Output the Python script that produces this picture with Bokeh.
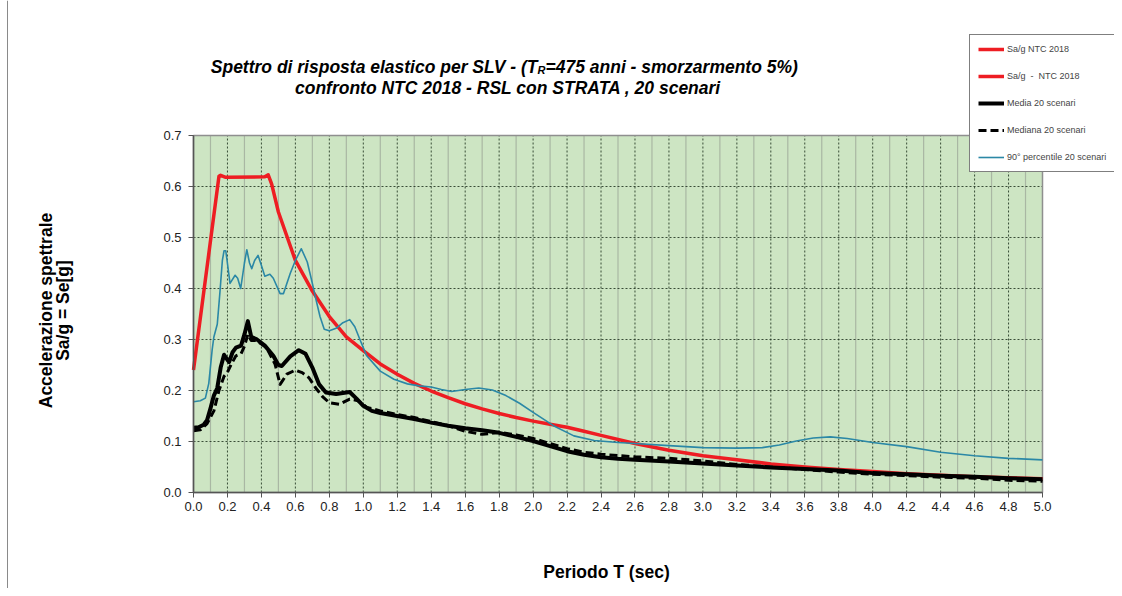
import math
from bokeh.plotting import figure
from bokeh.models import (Range1d, FixedTicker, PrintfTickFormatter, Label,
                          Legend, LegendItem, LinearAxis, Span)
from bokeh.embed import file_html
from bokeh.resources import INLINE

# ---------------- data ----------------
t_ntc = [0.00, 0.15, 0.16, 0.19, 0.42, 0.44, 0.46, 0.50, 0.60, 0.70, 0.80, 0.90,
         1.00, 1.10, 1.20, 1.30, 1.40, 1.50, 1.60, 1.70, 1.80, 1.90, 2.00, 2.10,
         2.20, 2.30, 2.40, 2.60, 2.80, 3.00, 3.20, 3.40, 3.60, 3.80, 4.00, 4.20,
         4.40, 4.60, 4.80, 5.00]
sa_ntc = [0.240, 0.620, 0.622, 0.618, 0.619, 0.623, 0.605, 0.550, 0.455, 0.395,
          0.345, 0.305, 0.278, 0.252, 0.232, 0.214, 0.199, 0.186, 0.174, 0.164,
          0.155, 0.147, 0.140, 0.134, 0.128, 0.120, 0.112, 0.096, 0.083, 0.072,
          0.064, 0.056, 0.050, 0.045, 0.041, 0.037, 0.034, 0.031, 0.029, 0.027]

t_mean = [0.00, 0.03, 0.06, 0.08, 0.10, 0.12, 0.14, 0.16, 0.18, 0.20, 0.21, 0.23,
          0.25, 0.28, 0.30, 0.32, 0.34, 0.37, 0.42, 0.47, 0.50, 0.52, 0.57, 0.62,
          0.66, 0.70, 0.74, 0.78, 0.84, 0.92, 0.96, 1.00, 1.05, 1.10, 1.20, 1.30,
          1.40, 1.50, 1.60, 1.70, 1.80, 1.90, 2.00, 2.10, 2.20, 2.30, 2.40, 2.50,
          2.60, 2.80, 3.00, 3.20, 3.40, 3.60, 3.80, 4.00, 4.20, 4.40, 4.60, 4.80,
          5.00]
sa_mean = [0.127, 0.128, 0.133, 0.142, 0.165, 0.190, 0.205, 0.245, 0.270, 0.260,
           0.256, 0.275, 0.284, 0.288, 0.310, 0.336, 0.305, 0.301, 0.288, 0.268,
           0.250, 0.248, 0.267, 0.279, 0.272, 0.245, 0.212, 0.196, 0.193, 0.197,
           0.184, 0.170, 0.160, 0.156, 0.150, 0.144, 0.137, 0.131, 0.126, 0.122,
           0.117, 0.109, 0.101, 0.091, 0.081, 0.074, 0.069, 0.066, 0.064, 0.061,
           0.057, 0.053, 0.049, 0.046, 0.043, 0.038, 0.036, 0.033, 0.031, 0.028,
           0.026]

t_median = [0.00, 0.04, 0.08, 0.12, 0.15, 0.18, 0.20, 0.22, 0.25, 0.28, 0.30, 0.32,
            0.34, 0.37, 0.43, 0.48, 0.51, 0.55, 0.60, 0.64, 0.68, 0.72, 0.76, 0.80,
            0.86, 0.92, 0.97, 1.02, 1.10, 1.20, 1.30, 1.40, 1.50, 1.60, 1.70, 1.80,
            1.90, 2.00, 2.10, 2.20, 2.30, 2.40, 2.60, 2.80, 3.00, 3.20, 3.40, 3.60,
            3.80, 4.00, 4.20, 4.40, 4.60, 4.80, 5.00]
sa_median = [0.121, 0.123, 0.135, 0.160, 0.200, 0.228, 0.236, 0.250, 0.268, 0.272,
             0.287, 0.310, 0.298, 0.298, 0.284, 0.252, 0.212, 0.232, 0.240, 0.235,
             0.225, 0.205, 0.188, 0.176, 0.173, 0.183, 0.180, 0.167, 0.160, 0.153,
             0.147, 0.139, 0.131, 0.120, 0.114, 0.118, 0.113, 0.106, 0.096, 0.086,
             0.079, 0.075, 0.070, 0.067, 0.062, 0.055, 0.050, 0.045, 0.040, 0.036,
             0.033, 0.030, 0.028, 0.024, 0.022]

t_p90 = [0.00, 0.04, 0.07, 0.09, 0.11, 0.12, 0.14, 0.155, 0.17, 0.18, 0.19, 0.20,
         0.215, 0.245, 0.26, 0.278, 0.30, 0.314, 0.33, 0.343, 0.36, 0.38, 0.40,
         0.42, 0.45, 0.47, 0.51, 0.53, 0.57, 0.60, 0.635, 0.67, 0.70, 0.72, 0.745,
         0.77, 0.80, 0.84, 0.88, 0.92, 0.95, 0.98, 1.02, 1.10, 1.18, 1.26, 1.33,
         1.40, 1.46, 1.52, 1.60, 1.68, 1.76, 1.84, 1.92, 2.00, 2.12, 2.24, 2.36,
         2.50, 2.60, 2.80, 3.00, 3.20, 3.35, 3.45, 3.55, 3.65, 3.75, 3.85, 4.00,
         4.20, 4.40, 4.60, 4.80, 5.00]
sa_p90 = [0.178, 0.180, 0.185, 0.214, 0.280, 0.305, 0.330, 0.390, 0.455, 0.474,
          0.474, 0.449, 0.410, 0.426, 0.420, 0.400, 0.450, 0.476, 0.450, 0.439,
          0.455, 0.465, 0.445, 0.424, 0.428, 0.420, 0.390, 0.390, 0.430, 0.455,
          0.478, 0.452, 0.410, 0.380, 0.345, 0.320, 0.317, 0.322, 0.333, 0.339,
          0.325, 0.300, 0.268, 0.238, 0.222, 0.213, 0.209, 0.207, 0.202, 0.198,
          0.202, 0.205, 0.201, 0.190, 0.175, 0.157, 0.131, 0.111, 0.102, 0.098,
          0.096, 0.092, 0.088, 0.087, 0.088, 0.093, 0.101, 0.107, 0.109, 0.106,
          0.098, 0.090, 0.079, 0.072, 0.067, 0.064]

x_ticks = [round(0.2 * i, 1) for i in range(26)]
x_minor = [round(0.1 + 0.2 * i, 1) for i in range(25)]
y_ticks = [round(0.1 * i, 1) for i in range(8)]
X_MIN, X_MAX, Y_MIN, Y_MAX = 0.0, 5.0, 0.0, 0.7

legend_labels = ["Sa/g NTC 2018", "Sa/g  -  NTC 2018", "Media 20 scenari",
                 "Mediana 20 scenari", "90\u00b0 percentile 20 scenari"]

FONT = "Liberation Sans"
W, H = 1114, 588
# plot area in canvas pixels
PL, PR, PT, PB = 193, 1042, 135, 492
xs = (PR - PL) / (X_MAX - X_MIN)
ys = (PB - PT) / (Y_MAX - Y_MIN)

p = figure(width=W, height=H, output_backend="svg", toolbar_location=None,
           x_range=Range1d(X_MIN - PL / xs, X_MAX + (W - PR) / xs),
           y_range=Range1d(Y_MIN - (H - PB) / ys, Y_MAX + PT / ys),
           x_axis_location=None, y_axis_location=None, min_border=0)
p.outline_line_color = None
p.background_fill_color = "white"
p.border_fill_color = "white"
for g in p.grid:
    g.visible = False

# thin page frame line at the far left
p.add_layout(Span(location=7, location_units="screen", dimension="height",
                  line_color="#8a8a8a", line_width=1))

# plot-area background
p.quad(left=[X_MIN], right=[X_MAX], bottom=[Y_MIN], top=[Y_MAX],
       fill_color="#cde5c3", line_color=None, level="image")

# grid lines (from the tick lists)
gx_minor = x_minor
gx_major = x_ticks[1:-1]
gy_major = y_ticks[1:-1]
p.segment(x0=gx_minor, y0=[Y_MIN] * len(gx_minor), x1=gx_minor,
          y1=[Y_MAX] * len(gx_minor), line_color="#a9b7a3", line_width=1.2,
          level="underlay")
p.segment(x0=gx_major, y0=[Y_MIN] * len(gx_major), x1=gx_major,
          y1=[Y_MAX] * len(gx_major), line_color="#1f331f", line_alpha=0.85,
          line_width=1, line_dash="2 2", level="underlay")
p.segment(x0=[X_MIN] * len(gy_major), y0=gy_major, x1=[X_MAX] * len(gy_major),
          y1=gy_major, line_color="#1f331f", line_alpha=0.85, line_width=1,
          line_dash="2 2", level="underlay")
# plot-area border
p.quad(left=[X_MIN], right=[X_MAX], bottom=[Y_MIN], top=[Y_MAX],
       fill_color=None, line_color="#8f8f8f", line_width=1.5, level="underlay")

# axes drawn at fixed locations
xaxis = LinearAxis(ticker=FixedTicker(ticks=x_ticks, minor_ticks=[]),
                   formatter=PrintfTickFormatter(format="%.1f"),
                   fixed_location=Y_MIN, bounds=(X_MIN, X_MAX))
yaxis = LinearAxis(ticker=FixedTicker(ticks=y_ticks, minor_ticks=[]),
                   formatter=PrintfTickFormatter(format="%.1f"),
                   fixed_location=X_MIN, bounds=(Y_MIN, Y_MAX))
for ax in (xaxis, yaxis):
    ax.major_label_text_font = FONT
    ax.major_label_text_font_size = "13px"
    ax.major_label_text_color = "#222222"
    ax.axis_line_color = "#555555"
    ax.axis_line_width = 1.5
    ax.major_tick_line_color = "#555555"
    ax.major_tick_out = 5
    ax.major_tick_in = 0
    ax.minor_tick_line_color = None
yaxis.major_label_standoff = 7
xaxis.major_label_standoff = 4
p.add_layout(xaxis, "below")
p.add_layout(yaxis, "left")

# series
r_red = p.line(t_ntc, sa_ntc, line_color="#ee1d23", line_width=3.5, line_join="round")
r_p90 = p.line(t_p90, sa_p90, line_color="#2b88a6", line_width=1.6, line_join="round")
r_med = p.line(t_median, sa_median, line_color="black", line_width=3,
               line_dash="8 4", line_join="round")
r_mean = p.line(t_mean, sa_mean, line_color="black", line_width=4, line_join="round")

legend = Legend(items=[LegendItem(label=legend_labels[0], renderers=[r_red]),
                       LegendItem(label=legend_labels[1], renderers=[r_red]),
                       LegendItem(label=legend_labels[2], renderers=[r_mean]),
                       LegendItem(label=legend_labels[3], renderers=[r_med]),
                       LegendItem(label=legend_labels[4], renderers=[r_p90])],
                location=(969, H - 172), orientation="vertical",
                border_line_color="black", border_line_width=1,
                background_fill_color="white", background_fill_alpha=1,
                label_text_font=FONT, label_text_font_size="9px",
                glyph_width=26, glyph_height=12, label_height=12, label_width=125,
                spacing=15, padding=8, label_standoff=3, margin=0)
p.add_layout(legend)

def sy(py):
    return H - py

title_kw = dict(x_units="screen", y_units="screen", text_font=FONT,
                text_font_style="bold italic", text_font_size="17.5px",
                text_color="black", text_baseline="alphabetic")
p.add_layout(Label(x=537, y=sy(66), text="Spettro di risposta elastico per SLV - (T",
                   text_align="right", **title_kw))
p.add_layout(Label(x=537, y=sy(69), text="R", text_align="left",
                   **{**title_kw, "text_font_size": "11px"}))
p.add_layout(Label(x=545, y=sy(66), text="=475 anni - smorzarmento 5%)",
                   text_align="left", **title_kw))
p.add_layout(Label(x=510, y=sy(87), text="confronto  NTC 2018 - RSL con STRATA , 20 scenari",
                   text_align="center", **title_kw))

axis_kw = dict(x_units="screen", y_units="screen", text_font=FONT,
               text_font_style="bold", text_font_size="17.5px", text_color="black",
               text_align="center", text_baseline="middle")
p.add_layout(Label(x=45, y=sy(310), text="Accelerazione spettrale",
                   angle=math.pi / 2, **axis_kw))
p.add_layout(Label(x=62, y=sy(310), text="Sa/g = Se[g]",
                   angle=math.pi / 2, **axis_kw))
p.add_layout(Label(x=606, y=sy(571), text="Periodo T (sec)", **axis_kw))

open("out.html", "w").write(file_html(p, INLINE))
